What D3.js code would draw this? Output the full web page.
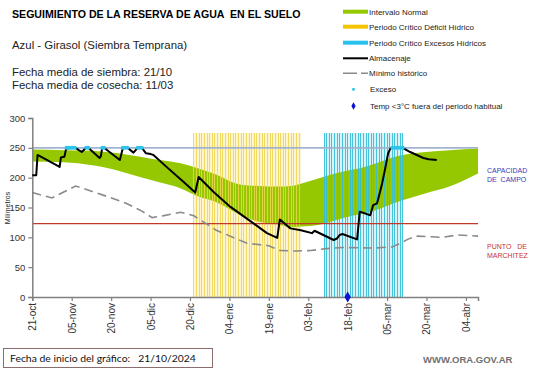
<!DOCTYPE html>
<html><head><meta charset="utf-8">
<script src="https://cdn.jsdelivr.net/npm/d3@7"></script>
<style>
html,body{margin:0;padding:0;background:#fff;}
svg{display:block;font-family:"Liberation Sans",Arial,sans-serif;}
text{white-space:pre;}
</style></head>
<body><svg id="c" width="541" height="368"></svg>
<script>
// ---- DATA (days counted from 21/10/2024) ----
const startDate = "2024-10-21";
const tickDays = [0,15,30,45,60,75,90,105,120,135,150,165];
const tickLabels = ["21-oct","05-nov","20-nov","05-dic","20-dic","04-ene","19-ene","03-feb","18-feb","05-mar","20-mar","04-abr"];
const yTicks = [0,50,100,150,200,250,300];

const normalDays  = [0,11.9,22.8,29.8,35.7,47.6,56.5,63.5,69.4,79.4,86.3,94.2,98.2,102.2,109.1,118,125,131,135.9,140.9,149.8,158.7,169.6];
const normalUpper = [247,246,245,242,239,230,224,215,206,188,186,185,186,190,199,210,216,224,232,238,243,246,249];
const normalLower = [227,226,221,215,208,193,182,168,160,137,126,121,117,118,121,132,139,146,154,162,174,185,207];

const storageDays = [0,1.5,2,10.4,10.9,12.2,12.9,16.4,18.8,20.5,21.3,25.6,26.1,26.6,27.3,33.3,34.5,36.2,38.5,40.1,41.7,43.2,45.1,46.1,51.6,57.5,62,63.3,69,75.4,84.3,89.3,93.2,94.2,98.2,102.2,106.4,107.4,114.7,115.9,117,118,123.6,124.6,128.6,129.7,131.2,133.1,134.4,135.4,136.3,136.9,140.9,143.8,148.8,150.8,153.9];
const storageValues = [204,204,238,218,234,235,249,250,243,250,250,233,236,250,250,229.5,250,250,242,250,250,241,239.5,238,216,193,175,201,176,151,123,107,99,130,115,112,107,111,95.5,98,104,105.5,96.6,143,137,154,157,190,218,241,249,250,250,243,233,231,229.5];

const minDays   = [0,7.5,16.5,22.8,28.8,35.7,41.7,45.6,49.6,56.5,61.5,70,81.7,90,94,100,106,112,118,130,137,140,143,146,152,156,162,169.6];
const minValues = [175,166,186,177,168,157,144,133,136,142,136,112,90,86,78,77,78,81,83,82,84,90,97,102,101,100,104,102];

const excessDays = [13,13.8,14.6,15.4,16.2,20.5,21.3,26.6,27.3,34.5,35.3,36.2,40.1,40.9,41.7,137,137.8,138.6,139.4,140.2,141];
const frostDays = [120];

const deficitPeriod = [61.5,102.2];
const excessPeriod  = [111,141];
const periodTop = 275;
const fieldCapacity = 250;
const wiltingPoint = 123;
const xMaxDay = 169.6;

const legendItems = ["Intervalo Normal","Periodo Crítico Déficit Hídrico","Periodo Crítico Excesos Hídricos","Almacenaje","Mínimo histórico","Exceso","Temp <3°C fuera del periodo habitual"];

// ---- DRAW ----
const svg = d3.select("#c");
const x = d3.scaleLinear().domain([0,xMaxDay]).range([32.3,478]);
const y = d3.scaleLinear().domain([0,300]).range([297,118]);

// titles
svg.append("text").attr("x",12).attr("y",18).attr("font-size",10.6).attr("font-weight","bold").attr("fill","#000")
  .text("SEGUIMIENTO DE LA RESERVA DE AGUA  EN EL SUELO");
svg.append("text").attr("x",12).attr("y",49).attr("font-size",11.4).attr("fill","#222").text("Azul - Girasol (Siembra Temprana)");
svg.append("text").attr("x",12).attr("y",76).attr("font-size",11.4).attr("fill","#222").text("Fecha media de siembra: 21/10");
svg.append("text").attr("x",12).attr("y",89).attr("font-size",11.4).attr("fill","#222").text("Fecha media de cosecha: 11/03");

// period backgrounds (under the green band)
function periodBg(period, color){
  svg.append("rect").attr("x",x(period[0])).attr("width",x(period[1])-x(period[0]))
    .attr("y",y(periodTop)).attr("height",y(0)-y(periodTop)).attr("fill",color);
}
periodBg(deficitPeriod,"#fcf5cf");
periodBg(excessPeriod,"#d9f2f7");

// green normal interval
const normal = normalDays.map((d,i)=>({d,u:normalUpper[i],l:normalLower[i]}));
svg.append("path").datum(normal)
  .attr("d", d3.area().x(p=>x(p.d)).y0(p=>y(p.l)).y1(p=>y(p.u)).curve(d3.curveMonotoneX))
  .attr("fill","#95c800");

// critical period stripes
function stripes(period, color, op){
  const days = d3.range(period[0], period[1]+0.01, 1);
  svg.append("g").attr("shape-rendering","crispEdges").selectAll("line").data(days).join("line")
    .attr("x1",d=>x(d)).attr("x2",d=>x(d)).attr("y1",y(0)).attr("y2",y(periodTop))
    .attr("stroke",color).attr("stroke-width",1).attr("opacity",op);
}
stripes(deficitPeriod,"#f0d652",0.85);
stripes(excessPeriod,"#36bfd8",0.9);

// reference lines
svg.append("line").attr("x1",x(0)).attr("x2",x(xMaxDay)).attr("y1",y(fieldCapacity)).attr("y2",y(fieldCapacity))
  .attr("stroke","#a2b3cf").attr("stroke-width",1.6);
svg.append("line").attr("x1",x(0)).attr("x2",x(xMaxDay)).attr("y1",y(wiltingPoint)).attr("y2",y(wiltingPoint))
  .attr("stroke","#c0392b").attr("stroke-width",1.2);

// min historic
svg.append("path").datum(minDays.map((d,i)=>[d,minValues[i]]))
  .attr("d", d3.line().x(p=>x(p[0])).y(p=>y(p[1])))
  .attr("fill","none").attr("stroke","#8a8a8a").attr("stroke-width",1.6).attr("stroke-dasharray","9,5");

// axes
const yAxis = svg.append("g").attr("transform","translate(32.3,0)")
  .call(d3.axisLeft(y).tickValues(yTicks).tickSize(4).tickPadding(3));
yAxis.selectAll("text").attr("font-size",9.5).attr("fill","#333").attr("font-family","Liberation Sans, Arial");
const xAxis = svg.append("g").attr("transform","translate(0,297)")
  .call(d3.axisBottom(x).tickValues(tickDays).tickFormat((d,i)=>tickLabels[i]).tickSize(4));
xAxis.selectAll("text").attr("font-size",10).attr("fill","#333").attr("font-family","Liberation Sans, Arial")
  .attr("transform","rotate(-90)").attr("text-anchor","end").attr("x",-6).attr("y",0).attr("dy","0.35em");
[yAxis,xAxis].forEach(a=>{a.selectAll(".domain").attr("stroke","#808080").attr("stroke-width",1.5);
  a.selectAll(".tick line").attr("stroke","#808080").attr("stroke-width",1.2);});
svg.append("text").attr("transform","translate(10,208) rotate(-90)").attr("text-anchor","middle")
  .attr("font-size",7).attr("fill","#222").text("Milímetros");

// storage line
svg.append("path").datum(storageDays.map((d,i)=>[d,storageValues[i]]))
  .attr("d", d3.line().x(p=>x(p[0])).y(p=>y(p[1])))
  .attr("fill","none").attr("stroke","#000").attr("stroke-width",2).attr("stroke-linejoin","round");

// excess dots
svg.append("g").selectAll("circle").data(excessDays).join("circle")
  .attr("cx",d=>x(d)).attr("cy",y(fieldCapacity)).attr("r",2).attr("fill","#2fc3ea");

// frost markers
svg.append("g").selectAll("path").data(frostDays).join("path")
  .attr("d",d3.symbol(d3.symbolDiamond,34)).attr("transform",d=>`translate(${x(d)},${y(0)})`).attr("fill","#0a14d0");

// right labels
svg.append("text").attr("x",487).attr("y",173).attr("font-size",7).attr("fill","#3a3ab8").text("CAPACIDAD");
svg.append("text").attr("x",487).attr("y",182).attr("font-size",7).attr("fill","#3a3ab8").text("DE  CAMPO");
svg.append("text").attr("x",487).attr("y",249).attr("font-size",7).attr("fill","#c83232").text("PUNTO   DE");
svg.append("text").attr("x",487).attr("y",258).attr("font-size",7).attr("fill","#c83232").text("MARCHITEZ");

// legend
const lg = svg.append("g");
const rowsY = [11.7,26.7,42.7,58.3,73.3,89.3,106];
lg.append("line").attr("x1",343).attr("x2",368).attr("y1",rowsY[0]).attr("y2",rowsY[0]).attr("stroke","#95c800").attr("stroke-width",4);
lg.append("line").attr("x1",343).attr("x2",368).attr("y1",rowsY[1]).attr("y2",rowsY[1]).attr("stroke","#f5c400").attr("stroke-width",4);
lg.append("line").attr("x1",343).attr("x2",368).attr("y1",rowsY[2]).attr("y2",rowsY[2]).attr("stroke","#27c1ec").attr("stroke-width",4);
lg.append("line").attr("x1",343).attr("x2",368).attr("y1",rowsY[3]).attr("y2",rowsY[3]).attr("stroke","#000").attr("stroke-width",2);
lg.append("line").attr("x1",343).attr("x2",368).attr("y1",rowsY[4]).attr("y2",rowsY[4]).attr("stroke","#8a8a8a").attr("stroke-width",1.6).attr("stroke-dasharray","14,4");
lg.append("circle").attr("cx",353.5).attr("cy",rowsY[5]).attr("r",1.5).attr("fill","#2fc3ea");
lg.append("path").attr("d",d3.symbol(d3.symbolDiamond,16)).attr("transform",`translate(353.5,${rowsY[6]})`).attr("fill","#0a14d0");
lg.selectAll("text").data(legendItems).join("text")
  .attr("x",(d,i)=> i>=5 ? 370 : 369).attr("y",(d,i)=>rowsY[i]).attr("dy","0.35em")
  .attr("font-size",8).attr("fill","#222").text(d=>d);

// bottom box
svg.append("rect").attr("x",3.5).attr("y",348.5).attr("width",209).attr("height",19).attr("fill","#fff").attr("stroke","#8c6d6d").attr("stroke-width",1);
svg.append("text").attr("x",10).attr("y",362).attr("font-size",10.4).attr("font-family","Lato, sans-serif").attr("fill","#111")
  .text("Fecha de inicio del gráfico:   " + startDate.split("-").reverse().join("/"));
svg.append("text").attr("x",423).attr("y",363).attr("font-size",9.5).attr("font-weight","bold").attr("fill","#707070").text("WWW.ORA.GOV.AR");
</script></body></html>
